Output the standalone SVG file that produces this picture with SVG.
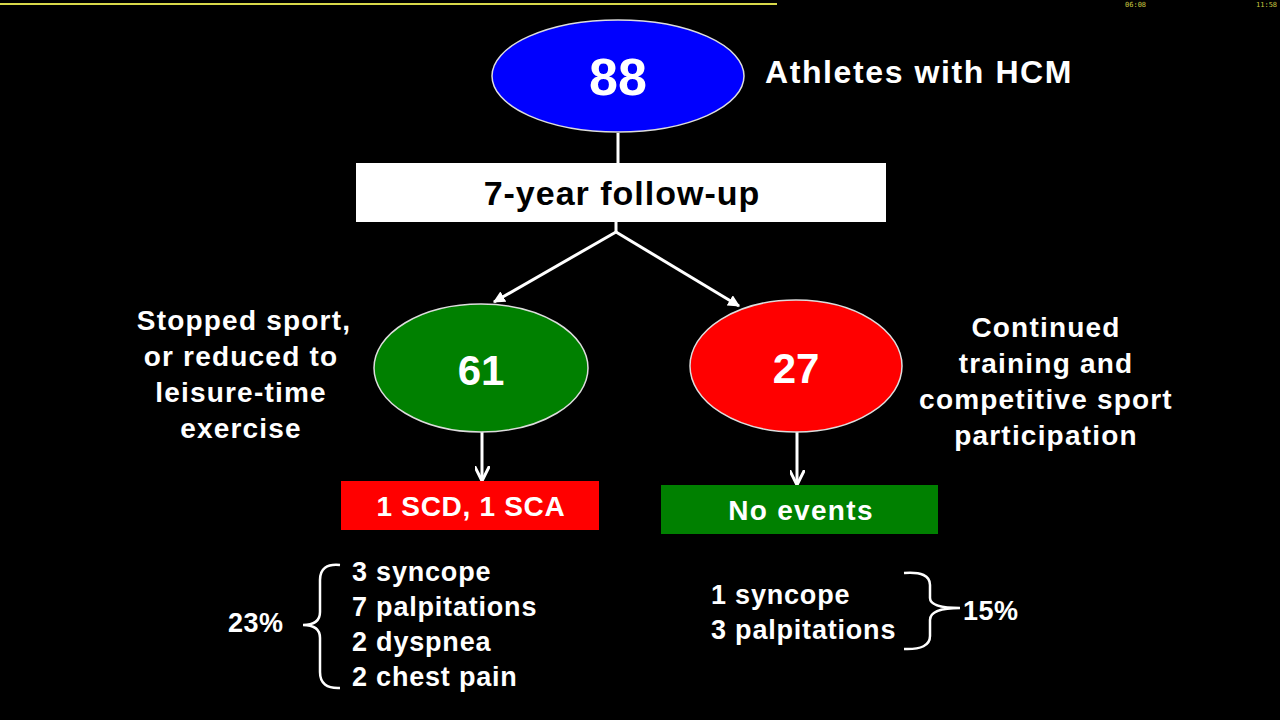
<svg xmlns="http://www.w3.org/2000/svg" width="1280" height="720" viewBox="0 0 1280 720">
<style>
.t{font-family:"Liberation Sans",Arial,sans-serif;font-weight:bold;fill:#fff}
.c{text-anchor:middle}
.ln{stroke:#fff;stroke-width:3;fill:none}
.br{stroke:#fff;stroke-width:2.5;fill:none}
.lbl{font-size:28px;letter-spacing:1.2px}
.lst{font-size:27px;letter-spacing:0.8px}
.small{font-family:"DejaVu Sans Mono",monospace;font-size:7px;fill:#c8c840}
</style>
<defs>
<marker id="ah" viewBox="0 0 10 10" refX="8" refY="5" markerWidth="5" markerHeight="5" orient="auto" markerUnits="strokeWidth">
<path d="M0,0 L10,5 L0,10" fill="none" stroke="#fff" stroke-width="2"/>
</marker>
<marker id="ah2" viewBox="0 0 10 10" refX="9" refY="5" markerWidth="4" markerHeight="4" orient="auto" markerUnits="strokeWidth">
<path d="M0,0 L10,5 L0,10 Z" fill="#fff"/>
</marker>
</defs>
<rect width="1280" height="720" fill="#000"/>
<line x1="0" y1="4" x2="777" y2="4" stroke="#d8d84a" stroke-width="2"/>
<text class="small" x="1125" y="7">06:08</text>
<text class="small" x="1256" y="7">11:58</text>

<g id="connectors">
<line class="ln" x1="618" y1="133" x2="618" y2="163"/>
<polyline class="ln" points="616,222 616,232"/>
<line class="ln" x1="616" y1="232" x2="494" y2="302" marker-end="url(#ah2)"/>
<line class="ln" x1="616" y1="232" x2="739" y2="306" marker-end="url(#ah2)"/>
<line class="ln" x1="482" y1="432" x2="482" y2="478" marker-end="url(#ah)"/>
<line class="ln" x1="797" y1="432" x2="797" y2="482" marker-end="url(#ah)"/>
</g>

<g id="n88">
<ellipse cx="618" cy="76" rx="126" ry="56" fill="#0000ff" stroke="#ddd" stroke-width="1.5"/>
<text class="t c" x="618" y="95" font-size="52">88</text>
</g>
<g id="athletes">
<text class="t" x="765" y="83" font-size="32" letter-spacing="1.6">Athletes with HCM</text>
</g>
<g id="followup">
<rect x="356" y="163" width="530" height="59" fill="#fff"/>
<text class="t c" x="622" y="205" font-size="34" letter-spacing="1" style="fill:#000">7-year follow-up</text>
</g>
<g id="n61">
<ellipse cx="481" cy="368" rx="107" ry="64" fill="#008000" stroke="#ddd" stroke-width="1.5"/>
<text class="t c" x="481" y="385" font-size="42">61</text>
</g>
<g id="n27">
<ellipse cx="796" cy="366" rx="106" ry="66" fill="#ff0000" stroke="#ddd" stroke-width="1.5"/>
<text class="t c" x="796" y="383" font-size="42">27</text>
</g>
<g id="stopped">
<text class="t c lbl"><tspan x="244" y="330">Stopped sport,</tspan><tspan x="241" y="366">or reduced to</tspan><tspan x="241" y="402">leisure-time</tspan><tspan x="241" y="438">exercise</tspan></text>
</g>
<g id="continued">
<text class="t c lbl"><tspan x="1046" y="337">Continued</tspan><tspan x="1046" y="373">training and</tspan><tspan x="1046" y="409">competitive sport</tspan><tspan x="1046" y="445">participation</tspan></text>
</g>
<g id="scd">
<rect x="341" y="481" width="258" height="49" fill="#ff0000"/>
<text class="t c" x="471" y="516" font-size="28" letter-spacing="0.7">1 SCD, 1 SCA</text>
</g>
<g id="noevents">
<rect x="661" y="485" width="277" height="49" fill="#008000"/>
<text class="t c" x="801" y="520" font-size="28" letter-spacing="1.3">No events</text>
</g>
<g id="leftsym">
<path class="br" d="M340,565 Q320,563 320,580 L320,612 Q320,625 303,625 Q320,625 320,638 L320,672 Q320,689 340,688"/>
<text class="t" x="228" y="632" font-size="27" letter-spacing="0.5">23%</text>
<text class="t lst"><tspan x="352" y="581">3 syncope</tspan><tspan x="352" y="616">7 palpitations</tspan><tspan x="352" y="651">2 dyspnea</tspan><tspan x="352" y="686">2 chest pain</tspan></text>
</g>
<g id="rightsym">
<path class="br" d="M904,573 Q930,571 930,585 L930,598 Q930,608 960,608 Q930,608 930,620 L930,636 Q930,650 904,649"/>
<text class="t" x="963" y="620" font-size="27" letter-spacing="0.5">15%</text>
<text class="t lst"><tspan x="711" y="604">1 syncope</tspan><tspan x="711" y="639">3 palpitations</tspan></text>
</g>
</svg>
